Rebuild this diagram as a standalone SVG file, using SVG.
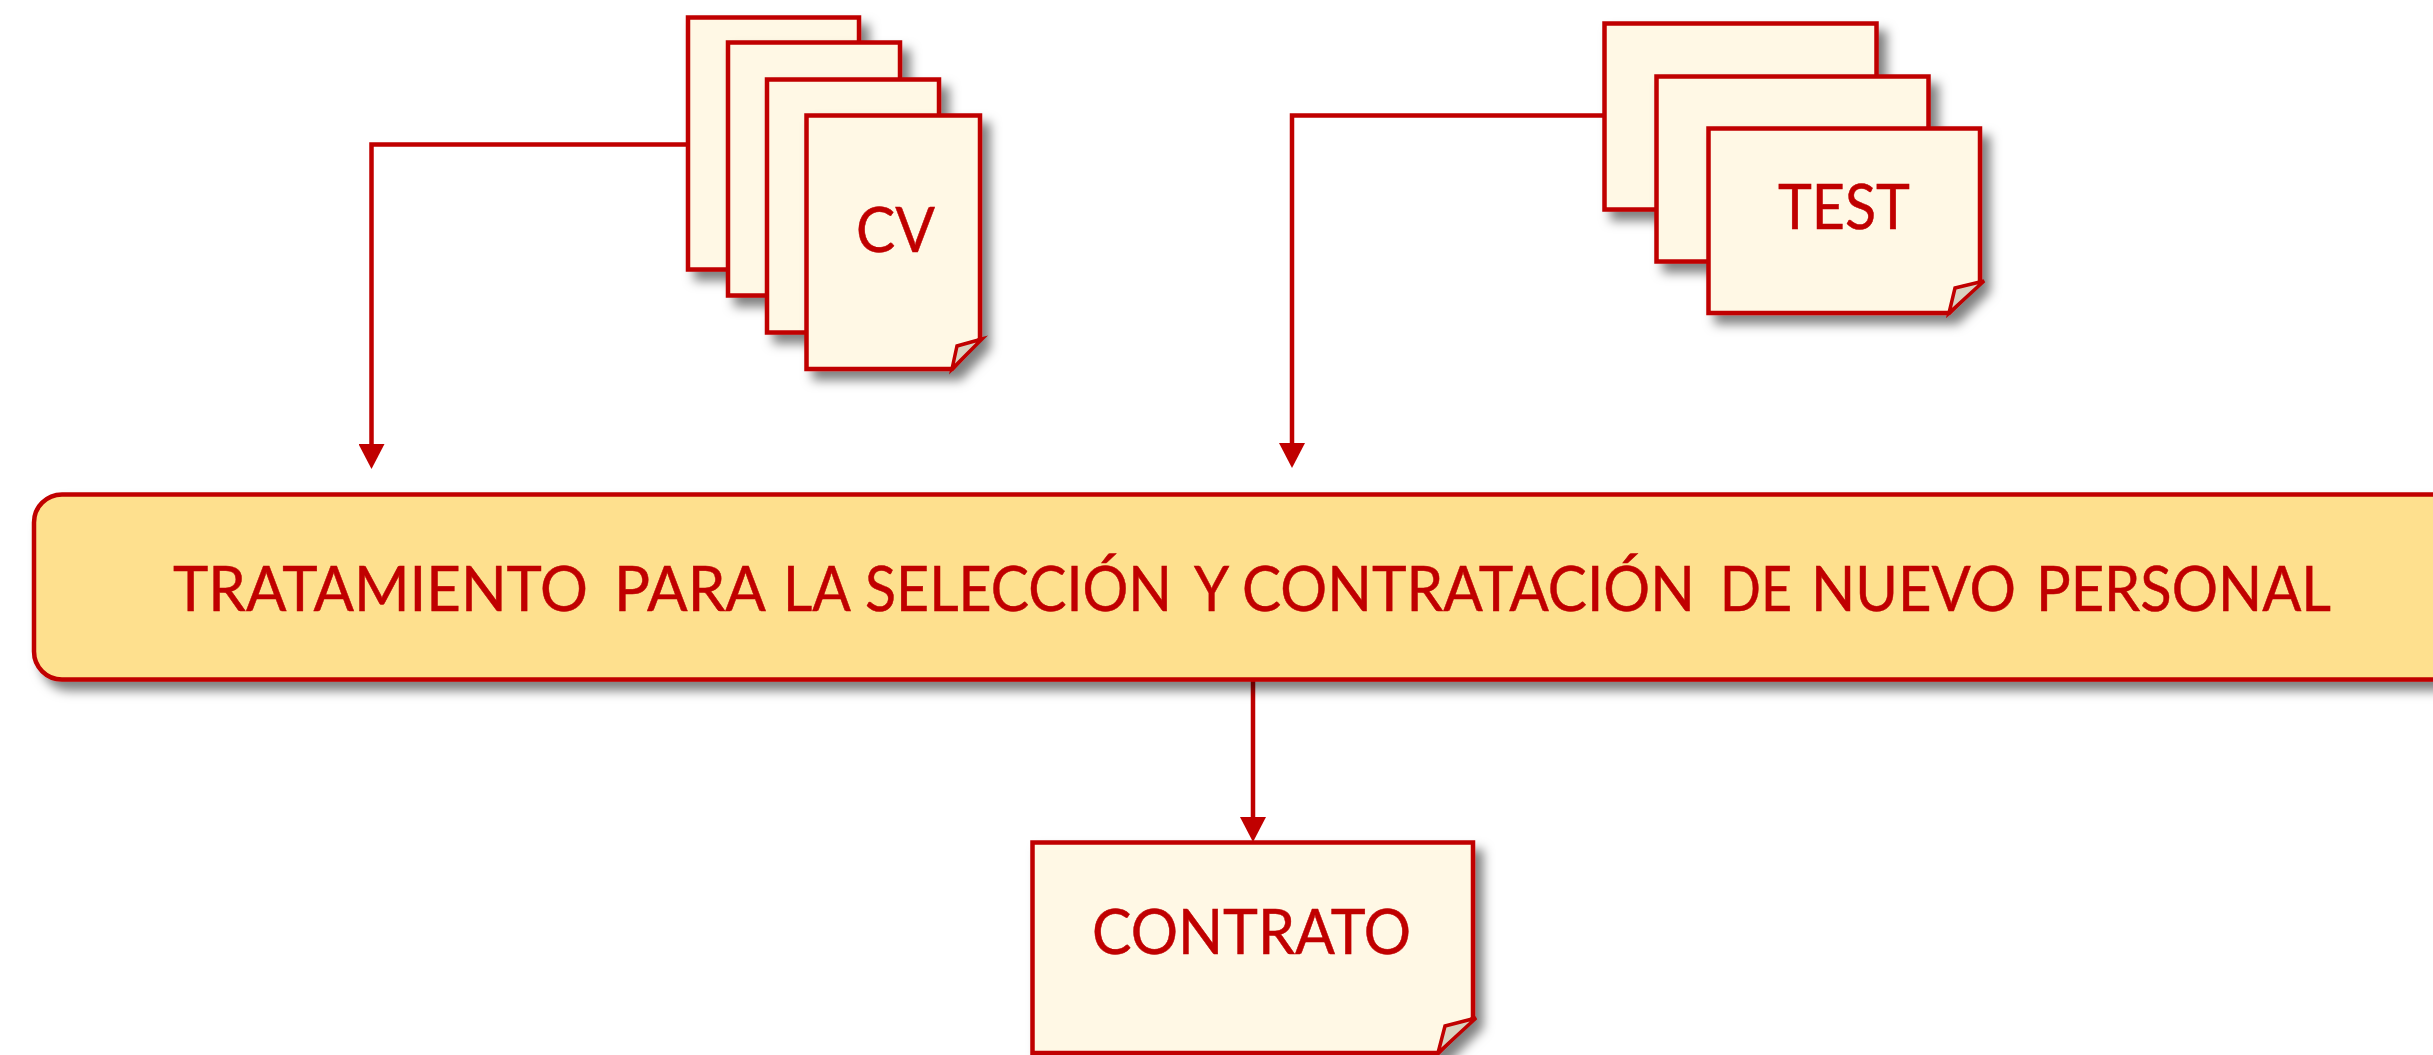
<svg xmlns="http://www.w3.org/2000/svg" width="2433" height="1055" viewBox="0 0 2433 1055">
<style>
.page{fill:#FFF8E5;stroke:#C00000;stroke-width:4.5;stroke-linejoin:miter}
.fold{fill:#D8D2C0;stroke:#C00000;stroke-width:3.5;stroke-linejoin:miter}
.main{fill:#FEE08E;stroke:#C00000;stroke-width:4.5}
.t{font-family:Lato,"Open Sans",sans-serif;font-size:61px;fill:#C00000;stroke:#C00000;stroke-width:0.5}
.c{fill:none;stroke:#C00000;stroke-width:4.5}
</style>
<defs>
<filter id="s" x="-20%" y="-20%" width="140%" height="150%"><feDropShadow dx="8" dy="9" stdDeviation="5.5" flood-color="#000" flood-opacity="0.5"/></filter>
<marker id="a" markerUnits="userSpaceOnUse" markerWidth="26" markerHeight="26" refX="15" refY="13" orient="auto"><path d="M0 0L25 13L0 26Z" fill="#C00000"/></marker>
</defs>
<rect width="2433" height="1055" fill="#fff"/>
<g id="connectors">
<path class="c" d="M688 144.500H371.500V459" marker-end="url(#a)"/>
<path class="c" d="M1604 115.500H1292V458" marker-end="url(#a)"/>
<path class="c" d="M1253 680V832" marker-end="url(#a)"/>
</g>
<g id="cv">
<rect class="page" x="688" y="17.500" width="171" height="252" filter="url(#s)"/>
<rect class="page" x="728" y="42.500" width="172" height="253" filter="url(#s)"/>
<rect class="page" x="767" y="79.500" width="172" height="253" filter="url(#s)"/>
<path class="page" d="M806.500 115.500H980V339L952 369H806.500Z" filter="url(#s)"/>
<path class="fold" d="M952 369L957 346L982 339Z"/>
<text class="t" x="856" y="252" textLength="79" lengthAdjust="spacingAndGlyphs">CV</text>
</g>
<g id="test">
<rect class="page" x="1604.500" y="23.500" width="272" height="186" filter="url(#s)"/>
<rect class="page" x="1656.500" y="76.500" width="272" height="185" filter="url(#s)"/>
<path class="page" d="M1708.500 128.500H1980V282L1949 313H1708.500Z" filter="url(#s)"/>
<path class="fold" d="M1949 313L1955 288L1984 281Z"/>
<text class="t" x="1778" y="229" textLength="132" lengthAdjust="spacingAndGlyphs">TEST</text>
</g>
<g id="tratamiento">
<path class="main" d="M2445 494.500H62A28 28 0 0 0 34 522.500V651.500A28 28 0 0 0 62 679.500H2445Z" filter="url(#s)"/>
<text class="t" y="611"><tspan x="173" textLength="415" lengthAdjust="spacingAndGlyphs">TRATAMIENTO</tspan> <tspan x="614" textLength="150" lengthAdjust="spacingAndGlyphs">PARA</tspan> <tspan x="783" textLength="66" lengthAdjust="spacingAndGlyphs">LA</tspan> <tspan x="865" textLength="307" lengthAdjust="spacingAndGlyphs">SELECCIÓN</tspan> <tspan x="1194" textLength="33" lengthAdjust="spacingAndGlyphs">Y</tspan> <tspan x="1242" textLength="453" lengthAdjust="spacingAndGlyphs">CONTRATACIÓN</tspan> <tspan x="1720" textLength="72" lengthAdjust="spacingAndGlyphs">DE</tspan> <tspan x="1811" textLength="205" lengthAdjust="spacingAndGlyphs">NUEVO</tspan> <tspan x="2036" textLength="295" lengthAdjust="spacingAndGlyphs">PERSONAL</tspan></text>
</g>
<g id="contrato">
<path class="page" d="M1032.500 842.500H1473V1018L1438 1053H1032.500Z" filter="url(#s)"/>
<path class="fold" d="M1438 1053L1445 1026L1476 1018Z"/>
<text class="t" x="1092" y="954" textLength="319" lengthAdjust="spacingAndGlyphs">CONTRATO</text>
</g>
</svg>
